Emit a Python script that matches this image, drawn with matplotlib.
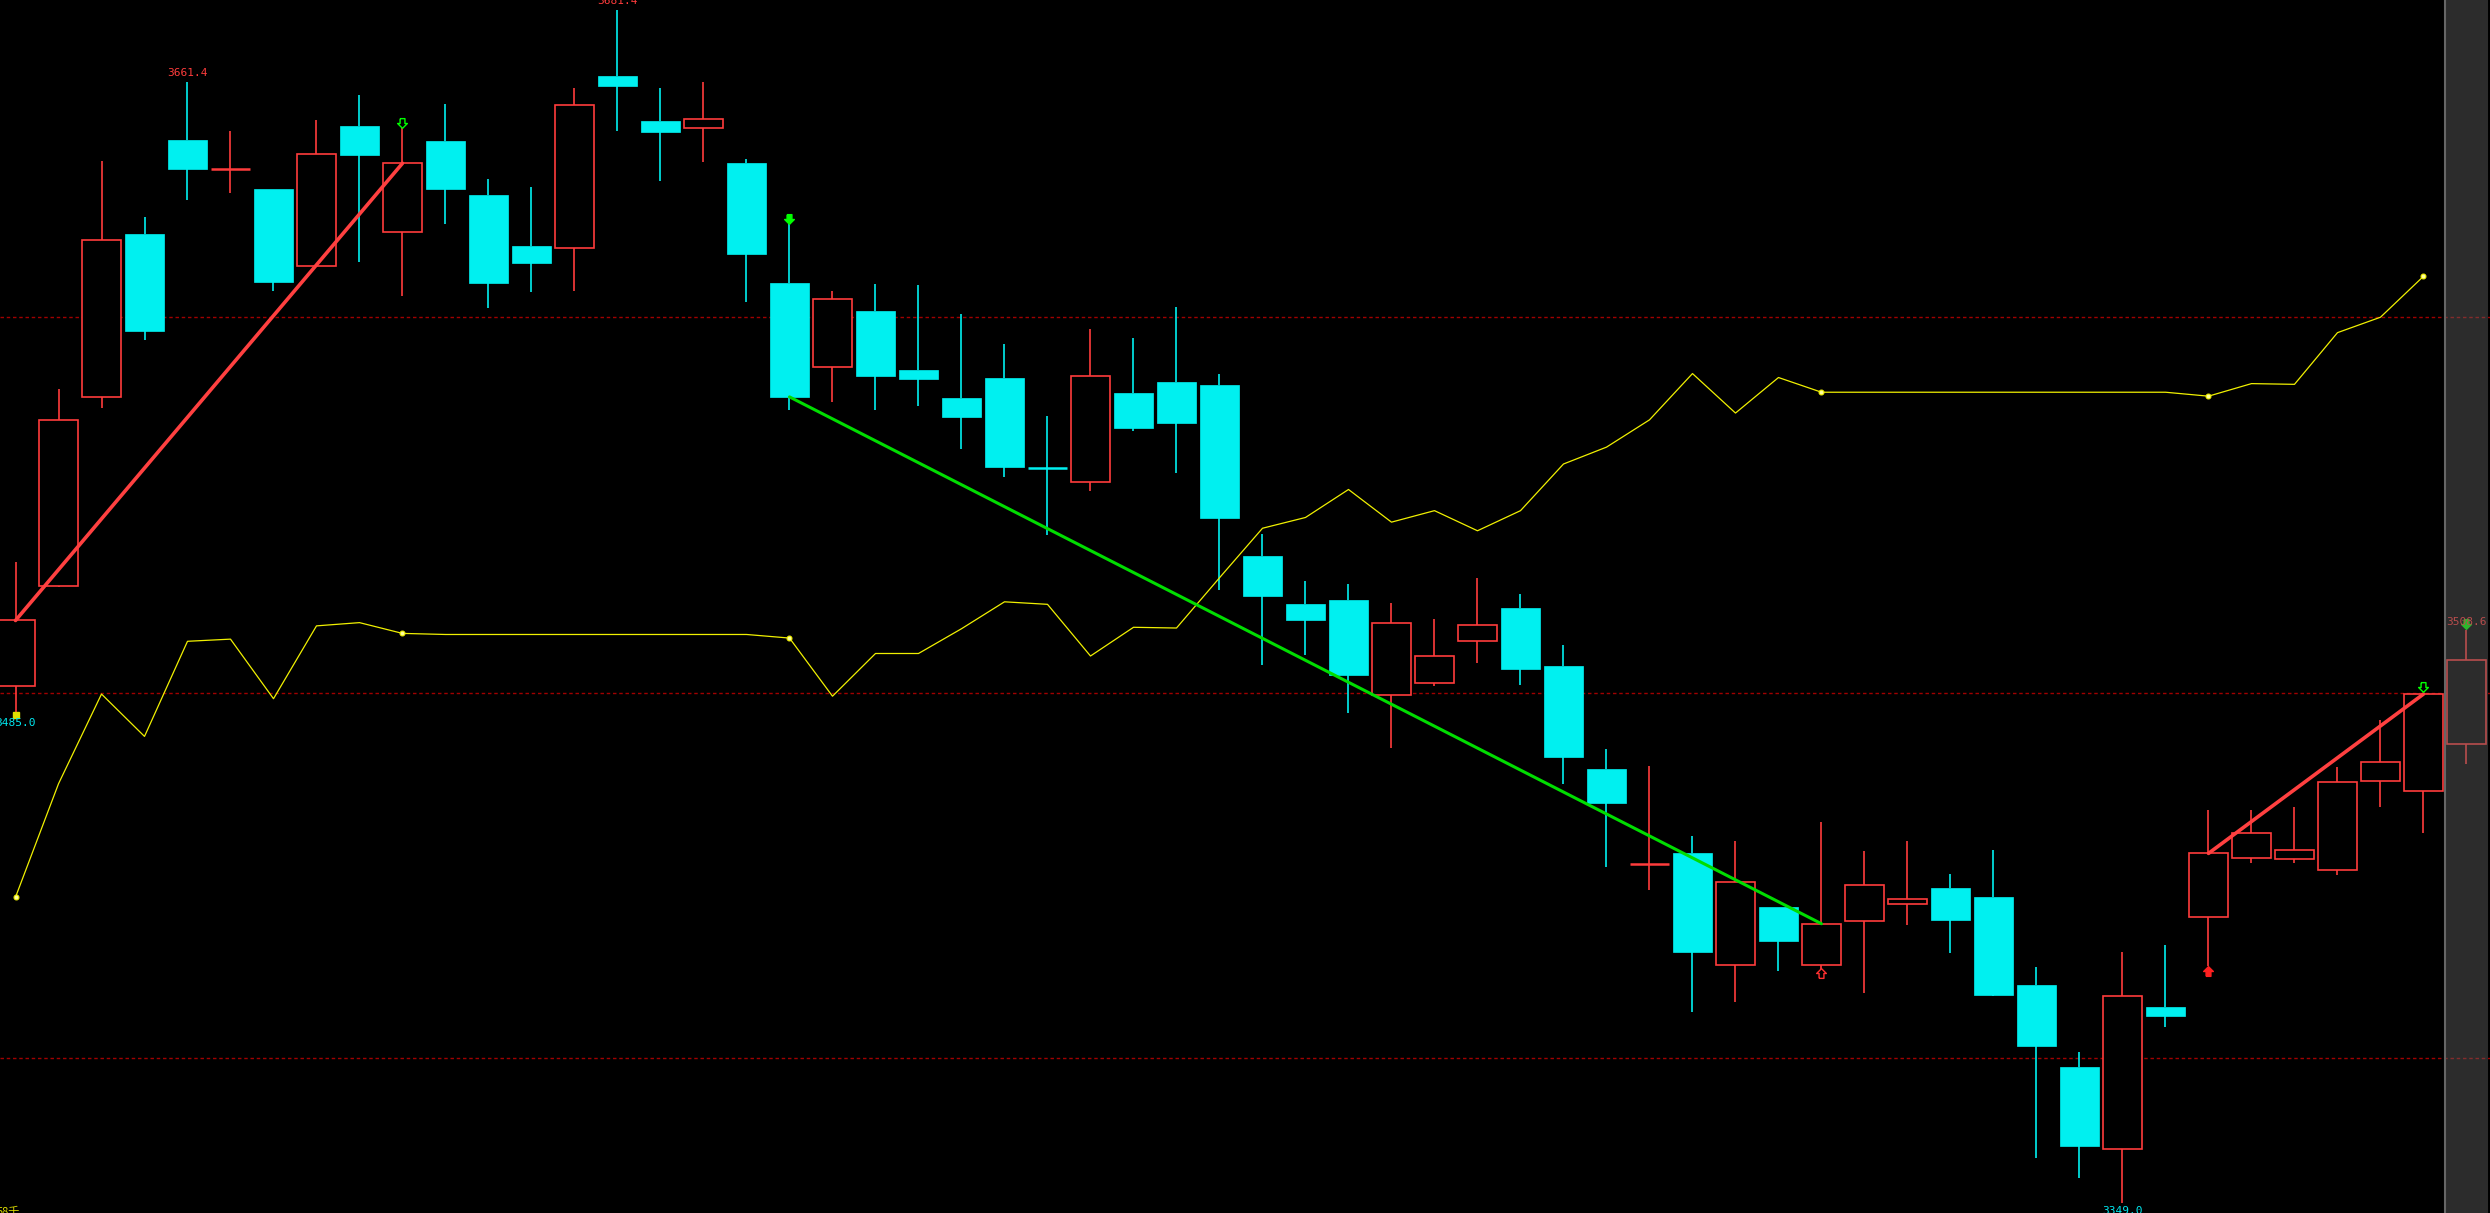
import matplotlib
matplotlib.use('Agg')
import matplotlib.pyplot as plt
from matplotlib.patches import Rectangle

# K线数据 (开, 高, 低, 收)
opens = [3493.0, 3521.0, 3573.6, 3619.1, 3645.2, 3637.2, 3631.6, 3610.0, 3649.1, 3619.5,
         3645.0, 3629.9, 3615.6, 3615.2, 3663.1, 3650.6, 3648.4, 3638.7, 3605.3, 3581.8,
         3597.5, 3581.2, 3573.4, 3578.8, 3553.7, 3549.9, 3574.7, 3577.7, 3576.8, 3529.2,
         3515.9, 3516.9, 3490.6, 3493.9, 3505.7, 3514.8, 3498.6, 3469.9, 3443.4, 3446.4,
         3415.2, 3431.6, 3415.2, 3427.5, 3432.4, 3436.7, 3434.2, 3409.8, 3387.0, 3364.1,
         3403.5, 3428.6, 3445.1, 3444.7, 3441.9, 3466.5, 3463.7, 3476.8]
highs = [3527.7, 3575.8, 3639.4, 3623.6, 3661.4, 3647.8, 3631.6, 3650.8, 3657.7, 3648.6,
         3655.3, 3634.4, 3632.0, 3659.6, 3681.4, 3659.6, 3661.3, 3639.8, 3621.7, 3603.1,
         3605.1, 3604.9, 3596.7, 3588.3, 3568.2, 3592.6, 3590.0, 3598.6, 3579.9, 3535.5,
         3522.3, 3521.5, 3516.3, 3511.8, 3523.0, 3518.7, 3504.4, 3475.5, 3470.8, 3451.2,
         3449.9, 3431.6, 3455.1, 3447.1, 3449.9, 3440.6, 3447.3, 3414.8, 3391.0, 3418.9,
         3420.8, 3458.5, 3458.5, 3459.4, 3470.6, 3483.7, 3490.8, 3508.6]
lows = [3485.0, 3520.5, 3570.6, 3589.4, 3628.6, 3630.3, 3603.1, 3610.0, 3611.3, 3601.6,
        3621.7, 3598.4, 3602.9, 3603.1, 3647.8, 3633.8, 3639.1, 3600.1, 3570.0, 3572.1,
        3570.0, 3571.0, 3559.0, 3551.2, 3535.2, 3547.3, 3564.1, 3552.3, 3519.9, 3499.0,
        3501.6, 3485.5, 3475.8, 3493.0, 3499.5, 3493.4, 3465.8, 3442.6, 3436.3, 3402.3,
        3405.1, 3413.7, 3414.3, 3407.4, 3426.4, 3418.6, 3406.6, 3361.5, 3355.9, 3349.0,
        3397.9, 3415.0, 3443.6, 3443.6, 3440.4, 3459.4, 3452.0, 3471.2]
closes = [3511.3, 3567.1, 3617.2, 3591.9, 3637.0, 3637.2, 3605.7, 3641.3, 3640.9, 3638.7,
          3631.4, 3605.3, 3610.9, 3654.9, 3660.3, 3647.3, 3651.0, 3613.5, 3573.6, 3600.8,
          3579.4, 3578.6, 3568.0, 3554.0, 3553.6, 3579.4, 3564.8, 3566.3, 3539.8, 3518.0,
          3511.3, 3496.0, 3510.5, 3501.4, 3510.0, 3497.7, 3473.2, 3460.5, 3443.4, 3418.9,
          3438.5, 3422.1, 3426.8, 3437.6, 3433.7, 3427.9, 3407.0, 3392.8, 3365.0, 3406.6,
          3401.2, 3446.4, 3452.0, 3447.3, 3466.3, 3471.9, 3490.8, 3500.3]

# 黄色指标线
yellow = [3434.2, 3465.8, 3490.8, 3479.0, 3505.5, 3506.1, 3489.5, 3509.8, 3510.7, 3507.7,
          3507.4, 3507.4, 3507.4, 3507.4, 3507.4, 3507.4, 3507.4, 3507.4, 3506.4, 3490.2,
          3502.1, 3502.1, 3509.0, 3516.5, 3515.8, 3501.4, 3509.4, 3509.2, 3523.2, 3537.0,
          3540.0, 3547.8, 3538.7, 3541.9, 3536.3, 3541.9, 3554.9, 3559.6, 3567.2, 3580.1,
          3569.1, 3579.0, 3574.9, 3574.9, 3574.9, 3574.9, 3574.9, 3574.9, 3574.9, 3574.9,
          3574.9, 3573.8, 3577.3, 3577.1, 3591.5, 3595.8, 3607.2]
yellow_dots = [0, 9, 18, 42, 51, 56]

# 虚线水平线
levels = [3595.8, 3491.1, 3389.3]

# 趋势线 (起点, 终点, 颜色, 线宽)
trends = [(0, 9, '#ff4040', 2.6), (18, 42, '#00dd00', 2.2), (51, 56, '#ff4040', 2.6)]

# 箭头标记 (位置, 价格, 方向, 实心, 颜色)
arrows = [(9, 3649.9, 'down', False, '#00ff00'), (18, 3623.2, 'down', True, '#00ff00'),
          (42, 3413.1, 'up', False, '#ff3030'), (51, 3413.7, 'up', True, '#ff2020'),
          (56, 3492.8, 'down', False, '#00ff00'), (57, 3510.3, 'down', True, '#00ff00')]

# 价格标注
labels = [(4, 3663.8, '3661.4', '#ff3c3c'), (14, 3683.9, '3681.4', '#ff3c3c'),
          (0, 3482.6, '3485.0', '#00e8f0'), (49, 3346.8, '3349.0', '#00e8f0'),
          (57, 3511.0, '3508.6', '#ff3c3c')]

UP = '#ff3c3c'
DOWN = '#00f0f0'

fig = plt.figure(figsize=(24.9, 12.13), dpi=100, facecolor='black')
ax = fig.add_axes([0, 0, 1, 1])
ax.set_facecolor('black')
ax.set_xlim(-0.3605, 57.547)
ax.set_ylim(3346.2, 3684.19)
ax.axis('off')

for p in levels:
    ax.axhline(p, color='#a00000', lw=1.0, ls=(0, (2.5, 2.0)), zorder=1)

w = 0.9
for i, (o, h, l, c) in enumerate(zip(opens, highs, lows, closes)):
    col = UP if c >= o else DOWN
    top, bot = max(o, c), min(o, c)
    ax.vlines(i, top, h, color=col, lw=1.2, zorder=2)
    ax.vlines(i, l, bot, color=col, lw=1.2, zorder=2)
    if top - bot < 0.3:
        ax.hlines(o, i - w / 2, i + w / 2, color=col, lw=1.8, zorder=3)
    elif c >= o:
        ax.add_patch(Rectangle((i - w / 2, bot), w, top - bot, facecolor='black',
                               edgecolor=col, lw=1.2, zorder=3))
    else:
        ax.add_patch(Rectangle((i - w / 2, bot), w, top - bot, facecolor=col,
                               edgecolor=col, lw=0.5, zorder=3))

ax.plot(range(len(yellow)), yellow, color='#f0f000', lw=0.9, zorder=4)
ax.plot(yellow_dots, [yellow[i] for i in yellow_dots], 'o', ms=3.5,
        mfc='#ffffa0', mec='#f0f000', mew=0.8, zorder=5)
ax.plot([0], [lows[0]], 's', ms=4, color='#e0e000', zorder=5)

for a, b, col, lw in trends:
    ax.plot([a, b], [closes[a], closes[b]], color=col, lw=lw, zorder=6,
            solid_capstyle='round')

down_verts = [(-0.25, 0.5), (0.25, 0.5), (0.25, 0.0), (0.5, 0.0), (0.0, -0.5),
              (-0.5, 0.0), (-0.25, 0.0), (-0.25, 0.5)]
up_verts = [(x, -y) for x, y in down_verts]
for i, p, d, filled, col in arrows:
    m = down_verts if d == 'down' else up_verts
    ax.plot([i], [p], marker=m, ms=7, mec=col, mew=1.0,
            mfc=col if filled else 'none', ls='none', zorder=7)

for i, p, s, col in labels:
    ax.text(i, p, s, color=col, ha='center', va='center', fontsize=8,
            family='DejaVu Sans Mono', zorder=8)

# 左下角成交量单位, 被边缘截去一部分
ax.text(0.105, 3346.6, '58千', color='#e0e000', ha='right', va='center', fontsize=8,
        family=['Noto Sans CJK SC', 'DejaVu Sans'], zorder=8)

# 右侧灰色区域
ax.add_patch(Rectangle((56.5, 3346.2), 1.0, 337.99, facecolor=(0.385, 0.385, 0.385),
                       alpha=0.45, edgecolor='none', zorder=10))
ax.axvline(56.5, color='#666666', lw=1.5, zorder=11)

fig.savefig('out.png', dpi=100, facecolor='black')
